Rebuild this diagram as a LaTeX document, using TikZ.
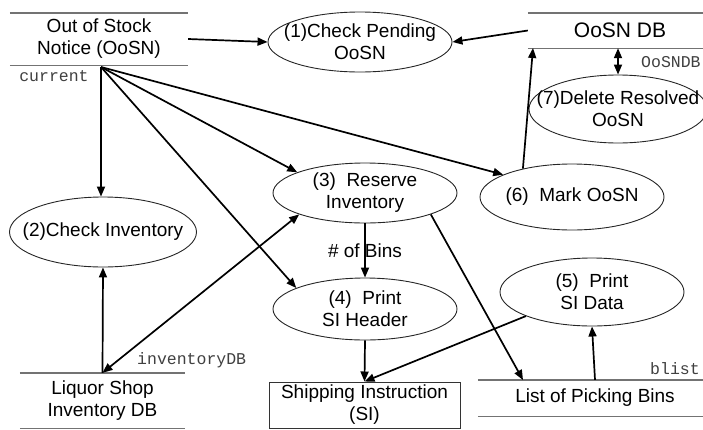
\documentclass[tikz,border=0pt]{standalone}
\usepackage{fontspec}
\setmainfont{Liberation Sans}
\setmonofont{Liberation Mono}
\usetikzlibrary{arrows.meta,shapes.geometric}
\begin{document}
\begin{tikzpicture}[x=1pt,y=-1pt,
  proc/.style={ellipse,draw=black!85,line width=0.9pt,inner sep=0pt},
  ptext/.style={font=\fontsize{19}{22}\selectfont,align=center,inner sep=0pt},
  store/.style={inner sep=0pt,align=center,font=\fontsize{19}{22}\selectfont},
  storeline/.style={draw=black!55,line width=1.4pt},
  flow/.style={line width=1.7pt,-{Triangle[length=10pt,width=8pt]}},
  flowb/.style={line width=1.7pt,{Triangle[length=10pt,width=8pt]}-{Triangle[length=10pt,width=8pt]}},
  mono/.style={font=\ttfamily\fontsize{16.5}{18}\selectfont,inner sep=0pt,text=black!75},
]
\useasboundingbox (0,0) rectangle (703,429);

% data stores
\node[store,minimum width=178pt,minimum height=52pt] (oosn) at (99,39) {Out of Stock\\Notice (OoSN)};
\draw[storeline] (oosn.north west) -- (oosn.north east);
\draw[storeline] (oosn.south west) -- (oosn.south east);

\node[store,font=\fontsize{21}{24}\selectfont,minimum width=184pt,minimum height=35pt] (db) at (620,30.5) {OoSN DB};
\draw[storeline] (db.north west) -- (db.north east);
\draw[storeline] (db.south west) -- (db.south east);

\node[store,minimum width=165pt,minimum height=55pt] (liq) at (102.5,400.5) {Liquor Shop\\Inventory DB};
\draw[storeline] (liq.north west) -- (liq.north east);
\draw[storeline] (liq.south west) -- (liq.south east);

\node[store,minimum width=234pt,minimum height=36pt] (list) at (595,398) {List of Picking Bins};
\draw[storeline] (list.north west) -- (list.north east);
\draw[storeline] (list.south west) -- (list.south east);

\node[store,draw=black!80,line width=1pt,minimum width=191pt,minimum height=46pt] (si) at (364.5,405) {Shipping Instruction\\(SI)};

% processes
\node[proc,minimum width=184pt,minimum height=60pt,label={[ptext]center:{(1)Check Pending\\OoSN}}] (p1) at (360,42) {};
\node[proc,minimum width=187pt,minimum height=70pt,label={[ptext]center:{(2)Check Inventory}}] (p2) at (103,232) {};
\node[proc,minimum width=184pt,minimum height=60pt,label={[ptext]center:{(3)~ Reserve\\Inventory}}] (p3) at (365,193) {};
\node[proc,minimum width=184pt,minimum height=62pt,label={[ptext]center:{(4)~ Print\\SI Header}}] (p4) at (365,309) {};
\node[proc,minimum width=184pt,minimum height=68pt,label={[ptext]center:{(5)~ Print\\SI Data}}] (p5) at (592,292) {};
\node[proc,minimum width=184pt,minimum height=66pt,label={[ptext]center:{(6)~ Mark OoSN}}] (p6) at (572,197) {};
\node[proc,minimum width=178pt,minimum height=68pt,label={[ptext]center:{(7)Delete Resolved\\OoSN}}] (p7) at (618,109) {};

% labels
\node[mono] (lcur) at (54,76) {current};
\node[mono,anchor=west] (ldb) at (641,62) {OoSNDB};
\node[mono,anchor=west] (linv) at (137,360) {inventoryDB};
\node[mono,anchor=west] (lbl) at (650,369) {blist};

% connectors
\coordinate (src) at (101,67);
\coordinate (listin) at (523,380);
\coordinate (dbin) at (533,48);

\draw[flow] (oosn.east) -- (p1.west);
\draw[flow] (db.west) -- (p1.east);
\draw[flow] (src) -- (src |- p2.north);
\draw[flow] (src) -- (p3.163);
\draw[flow] (src) -- (p4.163);
\draw[flow] (src) -- (p6.162);
\draw[flow] (liq.north) -- (p2.south);
\draw[flowb] (liq.north) -- (p3.198);
\draw[flow] (p3.south) -- node[ptext] (bins) {\# of Bins} (p4.north);
\draw[flow] (p3.342) -- (listin);
\draw[flow] (p4.south) -- (si.north);
\draw[flow] (p5.200) -- (si.north);
\draw[flow] (list.north) -- (p5.south);
\draw[flow] (p6.150) -- (dbin);
\draw[flowb] (p7.north) -- (p7.north |- db.south);
\end{tikzpicture}
\end{document}
